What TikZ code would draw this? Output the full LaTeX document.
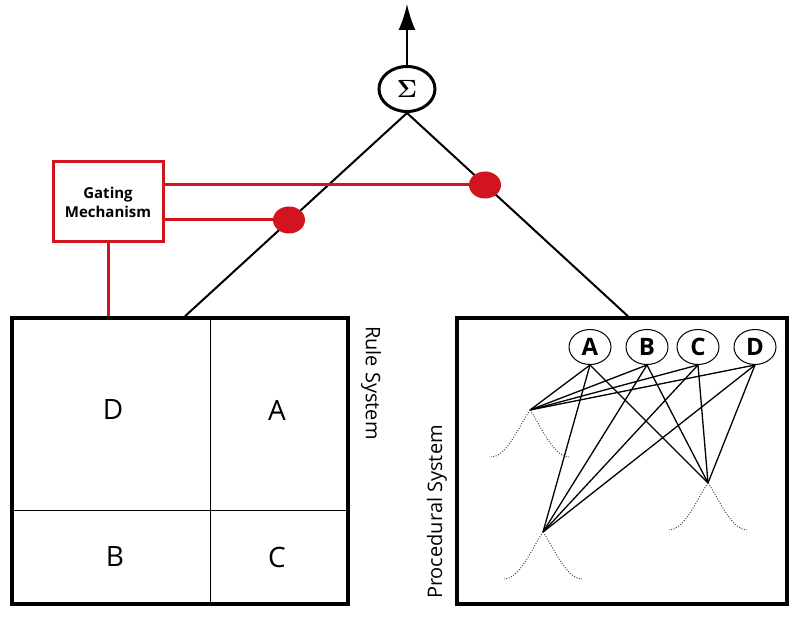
\documentclass[tikz,border=0pt]{standalone}
\usepackage[no-math]{fontspec}
\setmainfont{Open Sans}
\usetikzlibrary{positioning,calc,arrows.meta,shapes.geometric}
\definecolor{gatered}{RGB}{210,20,30}

\begin{document}
\begin{tikzpicture}[x=1pt,y=-1pt,
	box/.style={draw,line width=3.5pt,minimum height=286pt,inner sep=0pt},
	wire/.style={line width=2pt},
	redwire/.style={draw=gatered,line width=3pt},
	reddot/.style={ellipse,fill=gatered,minimum width=32pt,minimum height=27pt,inner sep=0pt},
	sumnode/.style={draw,ellipse,line width=3pt,minimum width=56pt,minimum height=45pt,inner sep=0pt,font=\fontsize{23}{23}\selectfont\boldmath},
	unit/.style={draw,ellipse,line width=1pt,minimum width=42pt,minimum height=35pt,inner sep=0pt,font=\fontsize{24}{24}\selectfont\bfseries},
	cell/.style={font=\fontsize{28}{28}\selectfont},
	link/.style={line width=1.3pt},
	tail/.style={line width=1pt,black!70,dash pattern=on 1pt off 1.6pt},
	side/.style={font=\fontsize{20}{20}\selectfont}]
	
	\useasboundingbox (0,0) rectangle (800,617);
	
	% sum and output
	\node[sumnode] (sum) at (407,89) {$\Sigma$};
	\coordinate (out) at (407,4);
	\draw[wire,-{Latex[length=26pt,width=17pt]}] (sum.north) -- (out);
	
	% the two systems
	\node[box,minimum width=336pt] (rule) at (180,461) {};
	\node[box,minimum width=330pt] (proc) at (622,461) {};
	\draw[wire] (sum.south) -- ($(rule.north)+(5,0)$);
	\draw[wire] (sum.south) -- ($(proc.north)+(6,0)$);
	
	% rule system cells
	\draw[line width=0.8pt] (210,317) -- (210,604);
	\draw[line width=0.8pt] (12,510) -- (348,510);
	\node[cell] (cd) at (113,410) {D};
	\node[cell] (ca) at (277,410) {A};
	\node[cell] (cb) at (115,557) {B};
	\node[cell] (cc) at (277,557) {C};
	\node[side,rotate=-90] (rulelabel) at (371,383) {Rule System};
	\node[side,rotate=90] (proclabel) at (437,512) {Procedural System};
	
	% gating
	\node[draw=gatered,line width=3pt,minimum width=110pt,minimum height=80pt,align=center,
	font=\fontsize{15}{19}\selectfont\bfseries] (gate) at (108,202) {Gating\\Mechanism};
	\node[reddot] (gl) at (289,220) {};
	\node[reddot] (gr) at (485,185) {};
	\draw[redwire] (gate.east |- gr) -- (gr);
	\draw[redwire] (gate.east |- gl) -- (gl);
	\draw[redwire] (gate.south) -- (gate.south |- rule.north);
	
	% procedural units
	\foreach \n/\x in {A/590,B/647,C/698,D/755}
	\node[unit] (\n) at (\x,347) {\n};
	
	\coordinate (j1) at (530,410);
	\coordinate (j2) at (543,532);
	\coordinate (j3) at (708,483);
	
	\foreach \n in {A,B,C,D}
	\foreach \j in {j1,j2,j3}
	\draw[link] (\n.south) -- (\j);
	
	\foreach \j in {j1,j2,j3}
	{
		\draw[tail] (\j) .. controls +(-10,14) and +(16,0) .. +(-39,47);
		\draw[tail] (\j) .. controls +(10,14) and +(-16,0) .. +(39,47);
	}
	
\end{tikzpicture}
\end{document}
